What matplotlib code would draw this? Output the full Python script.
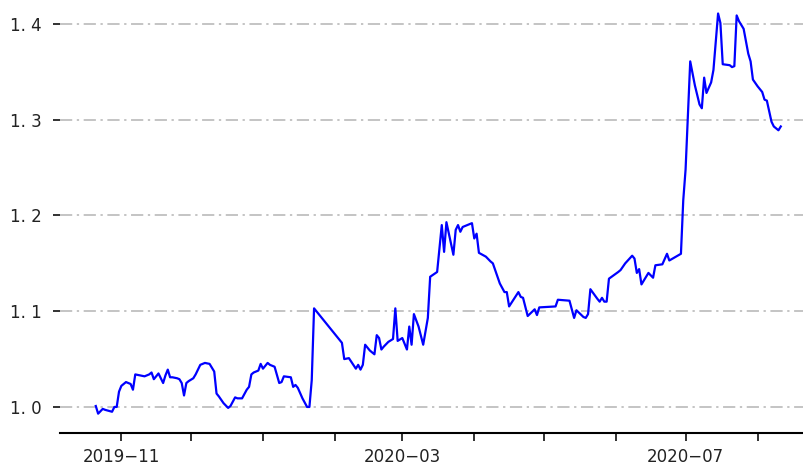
import matplotlib
matplotlib.use("Agg")
import matplotlib.pyplot as plt
import matplotlib.dates as mdates
import pandas as pd

# net value curve, vertices
dates = [
    "2019-10-21", "2019-10-22", "2019-10-24", "2019-10-25", "2019-10-28", "2019-10-29",
    "2019-10-30", "2019-10-31", "2019-11-01", "2019-11-03", "2019-11-05", "2019-11-06",
    "2019-11-07", "2019-11-09", "2019-11-11", "2019-11-13", "2019-11-14", "2019-11-15",
    "2019-11-16", "2019-11-17", "2019-11-19", "2019-11-20", "2019-11-21", "2019-11-22",
    "2019-11-23", "2019-11-25", "2019-11-26", "2019-11-27", "2019-11-28", "2019-11-29",
    "2019-11-30", "2019-12-02", "2019-12-03", "2019-12-05", "2019-12-07", "2019-12-09",
    "2019-12-11", "2019-12-12", "2019-12-13", "2019-12-15", "2019-12-17", "2019-12-18",
    "2019-12-20", "2019-12-21", "2019-12-23", "2019-12-25", "2019-12-26", "2019-12-27",
    "2019-12-28", "2019-12-30", "2019-12-31", "2020-01-01", "2020-01-03", "2020-01-04",
    "2020-01-06", "2020-01-08", "2020-01-09", "2020-01-10", "2020-01-13", "2020-01-14",
    "2020-01-15", "2020-01-16", "2020-01-18", "2020-01-20", "2020-01-21", "2020-01-22",
    "2020-01-23", "2020-02-02", "2020-02-04", "2020-02-05", "2020-02-07", "2020-02-10",
    "2020-02-11", "2020-02-12", "2020-02-13", "2020-02-14", "2020-02-16", "2020-02-18",
    "2020-02-19", "2020-02-20", "2020-02-21", "2020-02-22", "2020-02-24", "2020-02-26",
    "2020-02-27", "2020-02-28", "2020-03-01", "2020-03-03", "2020-03-04", "2020-03-05",
    "2020-03-06", "2020-03-08", "2020-03-10", "2020-03-12", "2020-03-13", "2020-03-16",
    "2020-03-18", "2020-03-19", "2020-03-20", "2020-03-23", "2020-03-24", "2020-03-25",
    "2020-03-26", "2020-03-27", "2020-03-31", "2020-04-01", "2020-04-02", "2020-04-03",
    "2020-04-06", "2020-04-08", "2020-04-09", "2020-04-12", "2020-04-14", "2020-04-15",
    "2020-04-16", "2020-04-20", "2020-04-21", "2020-04-22", "2020-04-24", "2020-04-27",
    "2020-04-28", "2020-04-29", "2020-05-06", "2020-05-07", "2020-05-12", "2020-05-14",
    "2020-05-15", "2020-05-18", "2020-05-19", "2020-05-20", "2020-05-21", "2020-05-24",
    "2020-05-25", "2020-05-26", "2020-05-27", "2020-05-28", "2020-05-29", "2020-06-02",
    "2020-06-03", "2020-06-05", "2020-06-08", "2020-06-09", "2020-06-10", "2020-06-11",
    "2020-06-12", "2020-06-15", "2020-06-17", "2020-06-18", "2020-06-21", "2020-06-23",
    "2020-06-24", "2020-06-29", "2020-06-30", "2020-07-01", "2020-07-03", "2020-07-05",
    "2020-07-07", "2020-07-08", "2020-07-09", "2020-07-10", "2020-07-12", "2020-07-13",
    "2020-07-15", "2020-07-16", "2020-07-17", "2020-07-20", "2020-07-21", "2020-07-22",
    "2020-07-23", "2020-07-24", "2020-07-26", "2020-07-28", "2020-07-29", "2020-07-30",
    "2020-08-01", "2020-08-03", "2020-08-04", "2020-08-05", "2020-08-07", "2020-08-08",
    "2020-08-10", "2020-08-11",
]
values = [
    1.001, 0.993, 0.998, 0.997, 0.995, 1.000,
    1.000, 1.016, 1.022, 1.026, 1.024, 1.018,
    1.034, 1.033, 1.032, 1.034, 1.036, 1.029,
    1.032, 1.035, 1.025, 1.033, 1.039, 1.031,
    1.031, 1.030, 1.029, 1.025, 1.012, 1.025,
    1.027, 1.030, 1.034, 1.044, 1.046, 1.045,
    1.037, 1.014, 1.011, 1.004, 0.999, 1.001,
    1.010, 1.009, 1.009, 1.018, 1.021, 1.034,
    1.036, 1.038, 1.045, 1.040, 1.046, 1.044,
    1.042, 1.025, 1.026, 1.032, 1.031, 1.021,
    1.023, 1.020, 1.009, 1.000, 1.000, 1.028,
    1.103, 1.073, 1.067, 1.050, 1.051, 1.040,
    1.044, 1.039, 1.044, 1.065, 1.059, 1.055,
    1.075, 1.072, 1.060, 1.063, 1.068, 1.071,
    1.103, 1.069, 1.072, 1.060, 1.084, 1.065,
    1.097, 1.084, 1.065, 1.093, 1.136, 1.141,
    1.190, 1.162, 1.193, 1.159, 1.185, 1.190,
    1.183, 1.188, 1.192, 1.176, 1.181, 1.161,
    1.157, 1.152, 1.150, 1.129, 1.120, 1.120,
    1.105, 1.120, 1.115, 1.114, 1.095, 1.102,
    1.096, 1.104, 1.105, 1.112, 1.111, 1.093,
    1.101, 1.094, 1.093, 1.097, 1.123, 1.113,
    1.110, 1.114, 1.110, 1.110, 1.134, 1.141,
    1.143, 1.150, 1.158, 1.155, 1.140, 1.144,
    1.128, 1.140, 1.135, 1.148, 1.149, 1.160,
    1.153, 1.160, 1.216, 1.248, 1.361, 1.336,
    1.316, 1.312, 1.344, 1.328, 1.339, 1.352,
    1.411, 1.401, 1.358, 1.357, 1.355, 1.356,
    1.409, 1.403, 1.395, 1.369, 1.361, 1.342,
    1.335, 1.329, 1.321, 1.320, 1.298, 1.293,
    1.289, 1.293,
]

month_ticks = pd.date_range("2019-11-01", "2020-08-01", freq="MS")
month_labels = ["2019\u221211", "", "", "", "2020\u221203", "", "", "", "2020\u221207", ""]
y_ticks = [1.0, 1.1, 1.2, 1.3, 1.4]
y_labels = ["1. 0", "1. 1", "1. 2", "1. 3", "1. 4"]

plt.rcParams["font.family"] = ["DejaVu Sans"]

fig = plt.figure(figsize=(8.04, 4.66), dpi=100)
ax = fig.add_axes([60 / 804, 33 / 466, 744 / 804, 433 / 466])

x = pd.to_datetime(dates)
ax.plot(x, values, color="#0000ff", lw=1.6, zorder=3)

ax.set_xlim(pd.Timestamp("2019-10-05 14:00"), pd.Timestamp("2020-08-21"))
ax.set_ylim(0.9728, 1.4251)

ax.set_xticks(month_ticks)
ax.set_xticklabels(month_labels)
ax.set_yticks(y_ticks)
ax.set_yticklabels(y_labels)

ax.yaxis.grid(True, color="#b4b4b4", ls=(0, (8, 3, 1.5, 3)), lw=1.1)
ax.set_axisbelow(True)

for side in ["left", "right", "top"]:
    ax.spines[side].set_visible(False)
ax.spines["bottom"].set_linewidth(1.5)

ax.tick_params(axis="x", length=6, width=1.3, pad=5, labelsize=12, colors="#222222")
ax.tick_params(axis="y", length=5, width=1.3, pad=8, labelsize=12, colors="#222222")

fig.savefig("out.png", dpi=100)
